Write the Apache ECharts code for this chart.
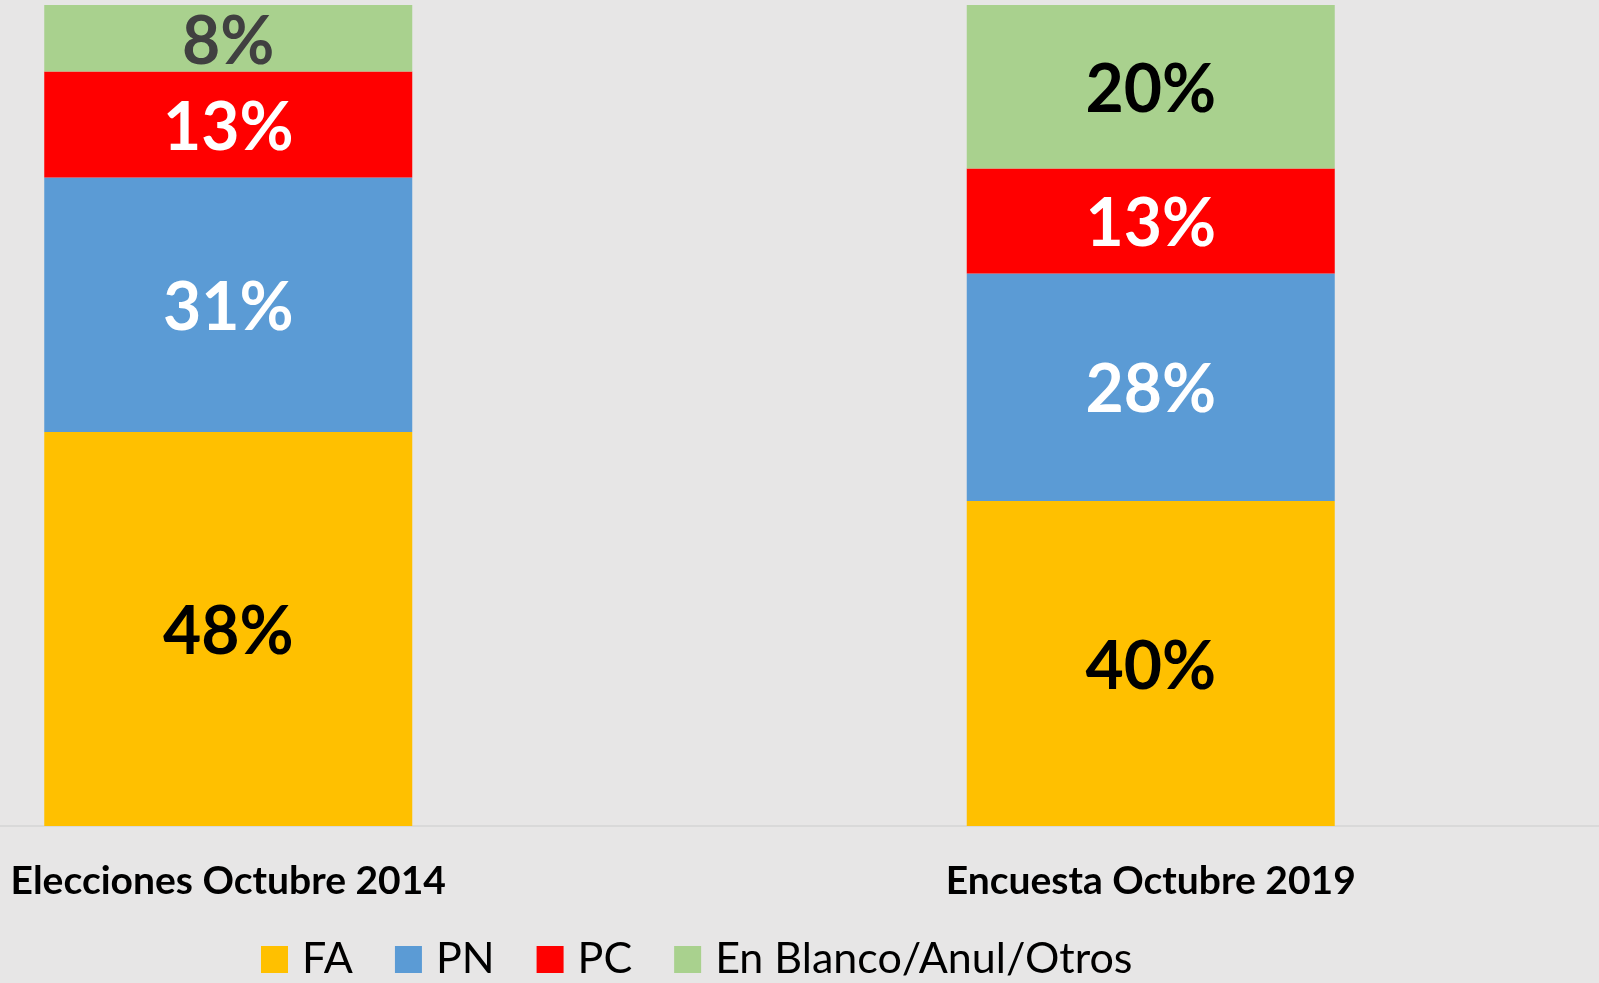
<!DOCTYPE html>
<html>
<head>
<meta charset="utf-8">
<script src="https://cdn.jsdelivr.net/npm/echarts@6/dist/echarts.min.js"></script>
<style>
  html, body { margin: 0; padding: 0; background: #e7e6e6; }
  #myChart { width: 1599px; height: 983px; }
</style>
</head>
<body>
<div id="myChart"></div>
<script>
var categories = ['Elecciones Octubre 2014', 'Encuesta Octubre 2019'];
var seriesNames = ['FA', 'PN', 'PC', 'En Blanco/Anul/Otros'];
var faValues = [48, 39.6];
var pnValues = [31, 27.7];
var pcValues = [12.9, 12.8];
var otrosValues = [8.1, 19.9];

var colors = ['#ffc000', '#5b9bd5', '#ff0000', '#a9d18e'];
// label colour per series, per bar
var labelColors = [
    ['#000', '#000'],
    ['#fff', '#fff'],
    ['#fff', '#fff'],
    ['#404040', '#000']
];
var allValues = [faValues, pnValues, pcValues, otrosValues];

var myChart = echarts.init(document.getElementById('myChart'));

var series = [];
for (var i = 0; i < seriesNames.length; i++) {
    var data = [];
    for (var j = 0; j < categories.length; j++) {
        data.push({
            value: allValues[i][j],
            label: { color: labelColors[i][j] }
        });
    }
    series.push({
        name: seriesNames[i],
        type: 'bar',
        stack: 'total',
        barWidth: 368,
        itemStyle: { color: colors[i] },
        label: {
            show: true,
            position: 'inside',
            offset: [0, 4],
            fontFamily: 'Lato',
            fontWeight: 'bold',
            fontSize: 66,
            formatter: function (p) {
                return Math.round(p.value) + '%';
            }
        },
        data: data
    });
}

var option = {
    backgroundColor: '#e7e6e6',
    animation: false,
    grid: {
        left: -233,
        right: -13,
        top: 5,
        bottom: 157,
        outerBoundsMode: 'none'
    },
    legend: {
        left: 261,
        top: 938,
        padding: 0,
        itemWidth: 27,
        itemHeight: 27,
        itemGap: 42,
        icon: 'rect',
        textStyle: {
            fontFamily: 'Lato',
            fontSize: 43,
            color: '#000',
            padding: [0, 0, 0, 9]
        },
        data: seriesNames
    },
    xAxis: {
        type: 'category',
        data: categories,
        axisLine: { lineStyle: { color: '#d9d9d9', width: 2 } },
        axisTick: { show: false },
        axisLabel: {
            margin: 36,
            fontFamily: 'Lato',
            fontWeight: 'bold',
            fontSize: 39,
            lineHeight: 39,
            color: '#000'
        }
    },
    yAxis: {
        type: 'value',
        min: 0,
        max: 100,
        show: false
    },
    series: series
};
myChart.setOption(option);
</script>
</body>
</html>
